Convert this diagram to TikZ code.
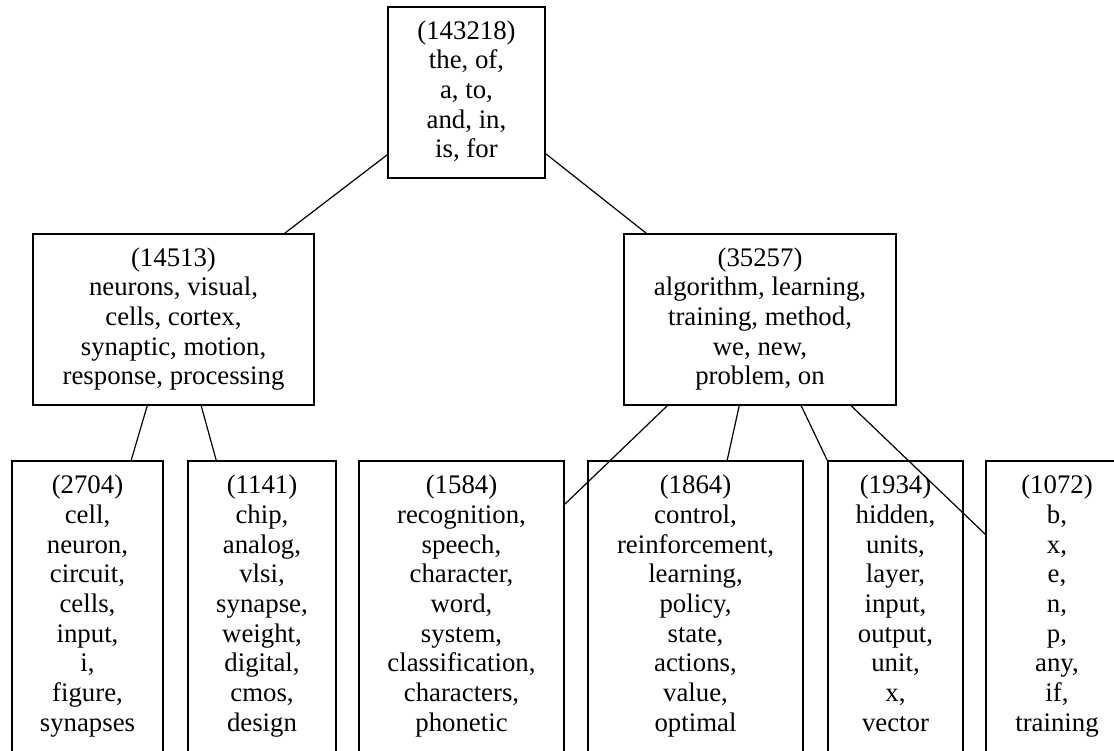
\documentclass[tikz,border=0pt]{standalone}
\usepackage{fontspec}
\setmainfont{Liberation Serif}
\begin{document}
\begin{tikzpicture}[x=1pt,y=-1pt,
  box/.style={draw=black, line width=1.6pt, rectangle, inner sep=0pt,
    align=center, font=\fontsize{26.8}{29.7}\selectfont},
  topbox/.style={box, minimum height=171pt},
  leafbox/.style={box, minimum height=291pt},
  link/.style={draw=black, line width=1.2pt}]
\clip (0,0) rectangle (1114,750);

% root
\node[topbox, minimum width=157pt] (root) at (466.5,92.5)
  {\strut(143218)\\\strut the, of,\\\strut a, to,\\\strut and, in,\\\strut is, for};

% second level
\node[topbox, minimum width=281pt] (neuro) at (173.5,319.5)
  {\strut(14513)\\\strut neurons, visual,\\\strut cells, cortex,\\\strut synaptic, motion,\\\strut response, processing};
\node[topbox, minimum width=272pt] (learn) at (760,319.5)
  {\strut(35257)\\\strut algorithm, learning,\\\strut training, method,\\\strut we, new,\\\strut problem, on};

% leaves
\node[leafbox, minimum width=151pt] (cell) at (87.5,606.5)
  {\strut(2704)\\\strut cell,\\\strut neuron,\\\strut circuit,\\\strut cells,\\\strut input,\\\strut i,\\\strut figure,\\\strut synapses};
\node[leafbox, minimum width=148pt] (chip) at (262,606.5)
  {\strut(1141)\\\strut chip,\\\strut analog,\\\strut vlsi,\\\strut synapse,\\\strut weight,\\\strut digital,\\\strut cmos,\\\strut design};
\node[leafbox, minimum width=205pt] (recog) at (461.5,606.5)
  {\strut(1584)\\\strut recognition,\\\strut speech,\\\strut character,\\\strut word,\\\strut system,\\\strut classification,\\\strut characters,\\\strut phonetic};
\node[leafbox, minimum width=215pt] (control) at (695.5,606.5)
  {\strut(1864)\\\strut control,\\\strut reinforcement,\\\strut learning,\\\strut policy,\\\strut state,\\\strut actions,\\\strut value,\\\strut optimal};
\node[leafbox, minimum width=135pt] (hidden) at (895.5,606.5)
  {\strut(1934)\\\strut hidden,\\\strut units,\\\strut layer,\\\strut input,\\\strut output,\\\strut unit,\\\strut x,\\\strut vector};
\node[leafbox, minimum width=142pt] (misc) at (1057,606.5)
  {\strut(1072)\\\strut b,\\\strut x,\\\strut e,\\\strut n,\\\strut p,\\\strut any,\\\strut if,\\\strut training};

% connectors
\draw[link] ([yshift=24pt]root.south west) -- ([xshift=-30pt]neuro.north east);
\draw[link] ([yshift=25pt]root.south east) -- ([xshift=23pt]learn.north west);

\draw[link] ([xshift=115pt]neuro.south west) -- ([xshift=120pt]cell.north west);
\draw[link] ([xshift=169pt]neuro.south west) -- ([xshift=29pt]chip.north west);

\draw[link] ([xshift=44pt]learn.south west) -- ([yshift=-44pt]recog.north east);
\draw[link] ([xshift=116pt]learn.south west) -- ([xshift=140pt]control.north west);
\draw[link] ([xshift=178pt]learn.south west) -- (hidden.north west);
\draw[link] ([xshift=228pt]learn.south west) -- ([yshift=-74pt]misc.north west);
\end{tikzpicture}
\end{document}
